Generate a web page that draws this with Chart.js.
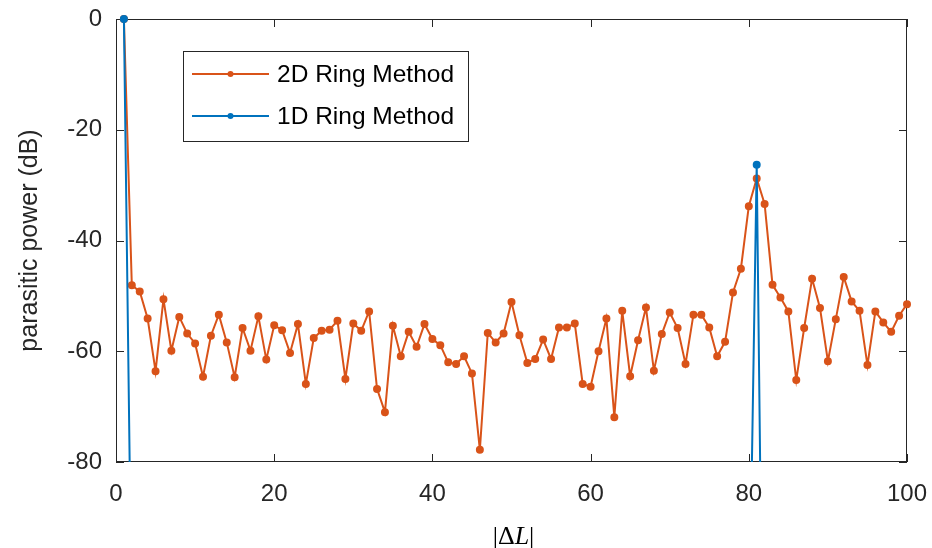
<!DOCTYPE html>
<html>
<head>
<meta charset="utf-8">
<script src="https://cdn.jsdelivr.net/npm/chart.js@4.4.1/dist/chart.umd.min.js"></script>
<style>
  html, body { margin: 0; padding: 0; background: #fff; }
  #wrap { width: 932px; height: 548px; }
</style>
</head>
<body>
<div id="wrap"><canvas id="chart" width="932" height="548"></canvas></div>
<script>
// |dL| offsets for the 2D ring method
const deltaL = [
  1, 2, 3, 4, 5, 6, 7, 8, 9, 10, 11, 12, 13, 14, 15, 16, 17, 18, 19, 20,
  21, 22, 23, 24, 25, 26, 27, 28, 29, 30, 31, 32, 33, 34, 35, 36, 37, 38, 39, 40,
  41, 42, 43, 44, 45, 46, 47, 48, 49, 50, 51, 52, 53, 54, 55, 56, 57, 58, 59, 60,
  61, 62, 63, 64, 65, 66, 67, 68, 69, 70, 71, 72, 73, 74, 75, 76, 77, 78, 79, 80,
  81, 82, 83, 84, 85, 86, 87, 88, 89, 90, 91, 92, 93, 94, 95, 96, 97, 98, 99, 100
];

// parasitic power (dB), 2D ring method
const power2D = [
  0, -48.1, -49.2, -54.1, -63.6, -50.6, -59.9, -53.8, -56.8, -58.6,
  -64.6, -57.2, -53.4, -58.4, -64.7, -55.8, -59.9, -53.7, -61.5, -55.3,
  -56.2, -60.3, -55.1, -65.9, -57.6, -56.3, -56.1, -54.5, -65.0, -55.0,
  -56.3, -52.8, -66.8, -71.0, -55.4, -60.9, -56.5, -59.2, -55.1, -57.8,
  -58.9, -62.0, -62.3, -60.9, -64.0, -77.8, -56.7, -58.4, -56.8, -51.1,
  -57.1, -62.1, -61.4, -57.9, -61.4, -55.7, -55.7, -55.0, -65.9, -66.4,
  -60.0, -54.1, -71.9, -52.7, -64.5, -58.0, -52.1, -63.5, -56.9, -53.0,
  -55.8, -62.3, -53.4, -53.4, -55.7, -60.9, -58.3, -49.4, -45.1, -33.8,
  -28.8, -33.4, -48.0, -50.3, -52.8, -65.2, -55.8, -46.9, -52.2, -61.8,
  -54.2, -46.6, -51.0, -52.7, -62.5, -52.8, -54.8, -56.5, -53.6, -51.5
];

// 1D ring method: only these points reach into the visible range
const deltaL1D = [1, 2, 80, 81, 82];
const power1D = [0, -110, -115, -26.3, -150];

const xTicks = [0, 20, 40, 60, 80, 100];
const yTicks = [0, -20, -40, -60, -80];

const orange = "#D95319";
const blue = "#0072BD";
const axisColor = "#262626";
const fontFamily = "'Liberation Sans', Arial, sans-serif";

const toPoints = (xs, ys) => xs.map((x, i) => ({ x: x, y: ys[i] }));

const noPadding = (s) => {
  s.paddingTop = 0; s.paddingBottom = 0; s.paddingLeft = 0; s.paddingRight = 0;
};

// frame, inward ticks, legend and x title (MATLAB style)
const matlabAxes = {
  id: "matlabAxes",
  beforeDatasetsDraw(chart) {
    const { ctx, chartArea: a, scales } = chart;
    ctx.save();
    ctx.strokeStyle = axisColor;
    ctx.lineWidth = 1;
    ctx.strokeRect(a.left + 0.5, a.top + 0.5, a.right - a.left - 1, a.bottom - a.top - 1);
    const len = 8;
    ctx.beginPath();
    xTicks.forEach((v) => {
      const px = Math.round(scales.x.getPixelForValue(v)) + 0.5;
      ctx.moveTo(px, a.bottom); ctx.lineTo(px, a.bottom - len);
      ctx.moveTo(px, a.top); ctx.lineTo(px, a.top + len);
    });
    yTicks.forEach((v) => {
      const py = Math.round(scales.y.getPixelForValue(v)) + 0.5;
      ctx.moveTo(a.left, py); ctx.lineTo(a.left + len, py);
      ctx.moveTo(a.right, py); ctx.lineTo(a.right - len, py);
    });
    ctx.stroke();
    ctx.restore();
  },
  afterDraw(chart) {
    const { ctx, chartArea: a } = chart;
    ctx.save();

    // legend
    const box = { x: 183.5, y: 51.5, w: 285, h: 90 };
    ctx.fillStyle = "#fff";
    ctx.fillRect(box.x, box.y, box.w, box.h);
    ctx.strokeStyle = axisColor;
    ctx.lineWidth = 1;
    ctx.strokeRect(box.x, box.y, box.w, box.h);
    const legendOrder = [1, 0];
    const rows = [74, 116];
    legendOrder.forEach((di, r) => {
      const ds = chart.data.datasets[di];
      const y = rows[r];
      ctx.strokeStyle = ds.borderColor;
      ctx.lineWidth = 2;
      ctx.beginPath();
      ctx.moveTo(192, y); ctx.lineTo(269, y);
      ctx.stroke();
      ctx.fillStyle = ds.borderColor;
      ctx.beginPath();
      ctx.arc(230.5, y, 3, 0, Math.PI * 2);
      ctx.fill();
      ctx.fillStyle = "#000";
      ctx.font = "24.5px " + fontFamily;
      ctx.textBaseline = "middle";
      ctx.textAlign = "left";
      ctx.fillText(ds.label, 277, y + 1);
    });

    // x title |ΔL|
    const serif = "26px 'Liberation Serif', serif";
    const parts = [
      { t: "|", f: serif },
      { t: "Δ", f: serif },
      { t: "L", f: "italic " + serif },
      { t: "|", f: serif }
    ];
    let total = 0;
    parts.forEach((p) => { ctx.font = p.f; p.w = ctx.measureText(p.t).width; total += p.w; });
    let x = (a.left + a.right) / 2 + 2 - total / 2;
    ctx.fillStyle = "#000";
    ctx.textBaseline = "alphabetic";
    ctx.textAlign = "left";
    parts.forEach((p) => { ctx.font = p.f; ctx.fillText(p.t, x, 544); x += p.w; });
    ctx.restore();
  }
};

new Chart(document.getElementById("chart"), {
  type: "line",
  data: {
    datasets: [
      {
        label: "1D Ring Method",
        data: toPoints(deltaL1D, power1D),
        borderColor: blue,
        backgroundColor: blue,
        borderWidth: 2,
        pointRadius: 3,
        pointHoverRadius: 3,
        order: 0,
        clip: { left: 0, top: 6, right: 6, bottom: 0 }
      },
      {
        label: "2D Ring Method",
        data: toPoints(deltaL, power2D),
        borderColor: orange,
        backgroundColor: orange,
        borderWidth: 2,
        pointRadius: 3,
        pointHoverRadius: 3,
        order: 1,
        clip: { left: 0, top: 6, right: 6, bottom: 0 }
      }
    ]
  },
  options: {
    responsive: false,
    animation: false,
    layout: { padding: { top: 19, right: 25, left: 0, bottom: 0 } },
    plugins: { legend: { display: false }, tooltip: { enabled: false } },
    scales: {
      x: {
        type: "linear",
        min: 0,
        max: 100,
        afterFit: (s) => { s.height = 86; noPadding(s); },
        afterBuildTicks: (s) => { s.ticks = xTicks.map((v) => ({ value: v })); },
        grid: { display: false, drawTicks: false },
        border: { display: false },
        ticks: { padding: 18, color: axisColor, font: { family: fontFamily, size: 24 } }
      },
      y: {
        min: -80,
        max: 0,
        afterFit: (s) => { s.width = 116; noPadding(s); },
        afterBuildTicks: (s) => { s.ticks = yTicks.map((v) => ({ value: v })); },
        grid: { display: false, drawTicks: false },
        border: { display: false },
        ticks: { padding: 14, color: axisColor, font: { family: fontFamily, size: 24 } },
        title: {
          display: true,
          text: "parasitic power (dB)",
          color: axisColor,
          font: { family: fontFamily, size: 25 },
          padding: { top: 15, bottom: 0 }
        }
      }
    }
  },
  plugins: [matlabAxes]
});
</script>
</body>
</html>
